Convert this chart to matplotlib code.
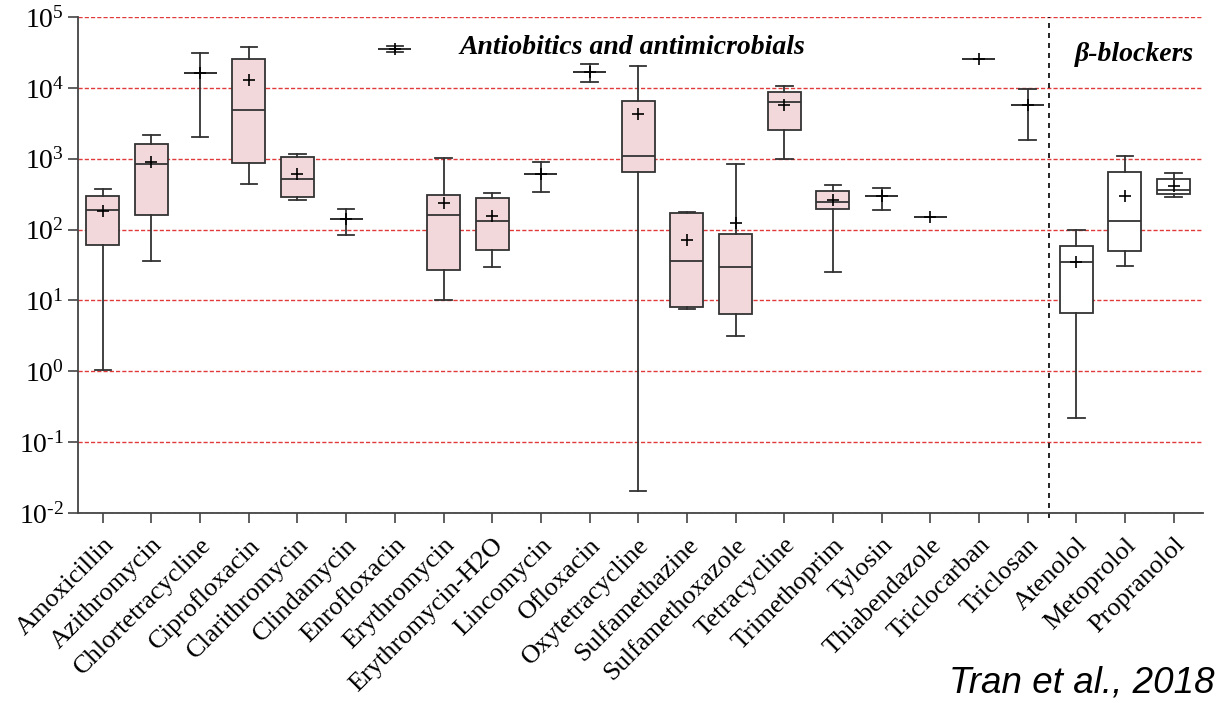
import matplotlib
matplotlib.use("Agg")
import matplotlib.pyplot as plt
from matplotlib.ticker import FixedLocator

categories = ["Amoxicillin", "Azithromycin", "Chlortetracycline", "Ciprofloxacin",
              "Clarithromycin", "Clindamycin", "Enrofloxacin", "Erythromycin",
              "Erythromycin-H2O", "Lincomycin", "Ofloxacin", "Oxytetracycline",
              "Sulfamethazine", "Sulfamethoxazole", "Tetracycline", "Trimethoprim",
              "Tylosin", "Thiabendazole", "Triclocarban", "Triclosan",
              "Atenolol", "Metoprolol", "Propranolol"]
groups = ["anti"] * 20 + ["beta"] * 3

whislo = [1.05, 35.8, 2020, 437, 258, 82.6, 31700, 10.2, 29.4, 334, 11970, 0.0204,
          7.52, 3.12, 978, 25.3, 190, 151, 25500, 1850, 0.217, 30.7, 287]
q1 = [60, 163, 16200, 867, 287, 140, 35600, 27.3, 50.7, 612, 16700, 640,
      8.09, 6.44, 2510, 196, 299, 151, 25500, 5770, 6.74, 49.1, 313]
med = [190, 830, 16200, 4810, 511, 140, 35600, 163, 130, 612, 16700, 1100,
       35.8, 29.4, 6240, 242, 299, 151, 25500, 5770, 34.3, 134, 364]
q3 = [296, 1590, 16200, 25200, 1055, 140, 35600, 309, 275, 612, 16700, 6440,
      169, 85.3, 8730, 348, 299, 151, 25500, 5770, 58.3, 640, 516]
whishi = [372, 2150, 30700, 38100, 1160, 196, 38500, 1010, 324, 895, 21900, 20100,
          176, 830, 10600, 424, 388, 151, 25500, 9530, 98, 1100, 632]
means = [185, 895, 16200, 13000, 612, 140, 35600, 236, 155, 612, 16700, 4230,
         70.2, 124, 5770, 260, 295, 151, 25500, 5770, 35.4, 296, 410]

group_labels = {"anti": "Antiobitics and antimicrobials", "beta": "\u03b2-blockers"}
fill_colors = {"anti": "#f2d8da", "beta": "#ffffff"}
source_text = "Tran et al., 2018"
ytick_exponents = [-2, -1, 0, 1, 2, 3, 4, 5]

plt.rcParams["font.family"] = ["Liberation Serif", "DejaVu Serif"]
plt.rcParams["mathtext.fontset"] = "custom"
plt.rcParams["mathtext.rm"] = "Liberation Serif"
plt.rcParams["mathtext.it"] = "Liberation Serif:italic"
plt.rcParams["mathtext.bf"] = "Liberation Serif:bold"

fig = plt.figure(figsize=(12.26, 7.03), dpi=100)
ax = fig.add_axes([0.0636, 0.2703, 0.9175, 0.7055])

stats = []
for i, name in enumerate(categories):
    stats.append(dict(label=name, whislo=whislo[i], q1=q1[i], med=med[i],
                      q3=q3[i], whishi=whishi[i], mean=means[i], fliers=[]))

edge = "#333333"
positions = list(range(len(categories)))
bp = ax.bxp(stats, positions=positions, widths=0.68, patch_artist=True,
            showmeans=True, showfliers=False,
            boxprops=dict(edgecolor=edge, linewidth=1.3),
            whiskerprops=dict(color=edge, linewidth=1.3),
            capprops=dict(color=edge, linewidth=1.3),
            medianprops=dict(color=edge, linewidth=1.3),
            meanprops=dict(marker="+", markeredgecolor="black", markersize=8,
                           markeredgewidth=1.2))
for patch, g in zip(bp["boxes"], groups):
    patch.set_facecolor(fill_colors[g])

ax.set_yscale("log")
ax.set_ylim(1e-2, 1e5)
ax.set_xlim(-0.51, 22.6)
ax.yaxis.set_major_locator(FixedLocator([10.0 ** k for k in ytick_exponents]))
ax.yaxis.set_minor_locator(FixedLocator([]))
ylabels = []
for k in ytick_exponents:
    if k < 0:
        ylabels.append(r"$\mathregular{10^{\text{-}%d}}$" % (-k))
    else:
        ylabels.append(r"$\mathregular{10^{%d}}$" % k)
ax.set_yticklabels(ylabels, fontsize=20)

ax.set_xticks(positions)
ax.set_xticklabels(categories, rotation=45, ha="right", rotation_mode="anchor",
                   fontsize=19)

ax.grid(axis="y", which="major", color="#e03a3a", linestyle=(0, (3, 1.5)),
        linewidth=1.0)
ax.set_axisbelow(True)

for s in ["top", "right"]:
    ax.spines[s].set_visible(False)
for s in ["left", "bottom"]:
    ax.spines[s].set_color("#444444")
    ax.spines[s].set_linewidth(1.3)
ax.tick_params(axis="both", direction="out", color="#444444", width=1.2, length=7)
ax.tick_params(axis="y", pad=3)
ax.tick_params(axis="x", pad=8)

ax.axvline(19.43, ymin=-0.01, ymax=1, color="black", linestyle=(0, (3, 3)),
           linewidth=1.2, clip_on=False)

ax.text(10.88, 3.7e4, group_labels["anti"], ha="center", va="center",
        fontsize=20, fontweight="bold", style="italic")
ax.text(21.2, 3.0e4, group_labels["beta"], ha="center", va="center",
        fontsize=20, fontweight="bold", style="italic")

fig.text(0.991, 0.0156, source_text, ha="right", va="baseline", fontsize=26.5,
         style="italic", family=["Liberation Sans", "DejaVu Sans"])

fig.savefig("out.png", dpi=100)
